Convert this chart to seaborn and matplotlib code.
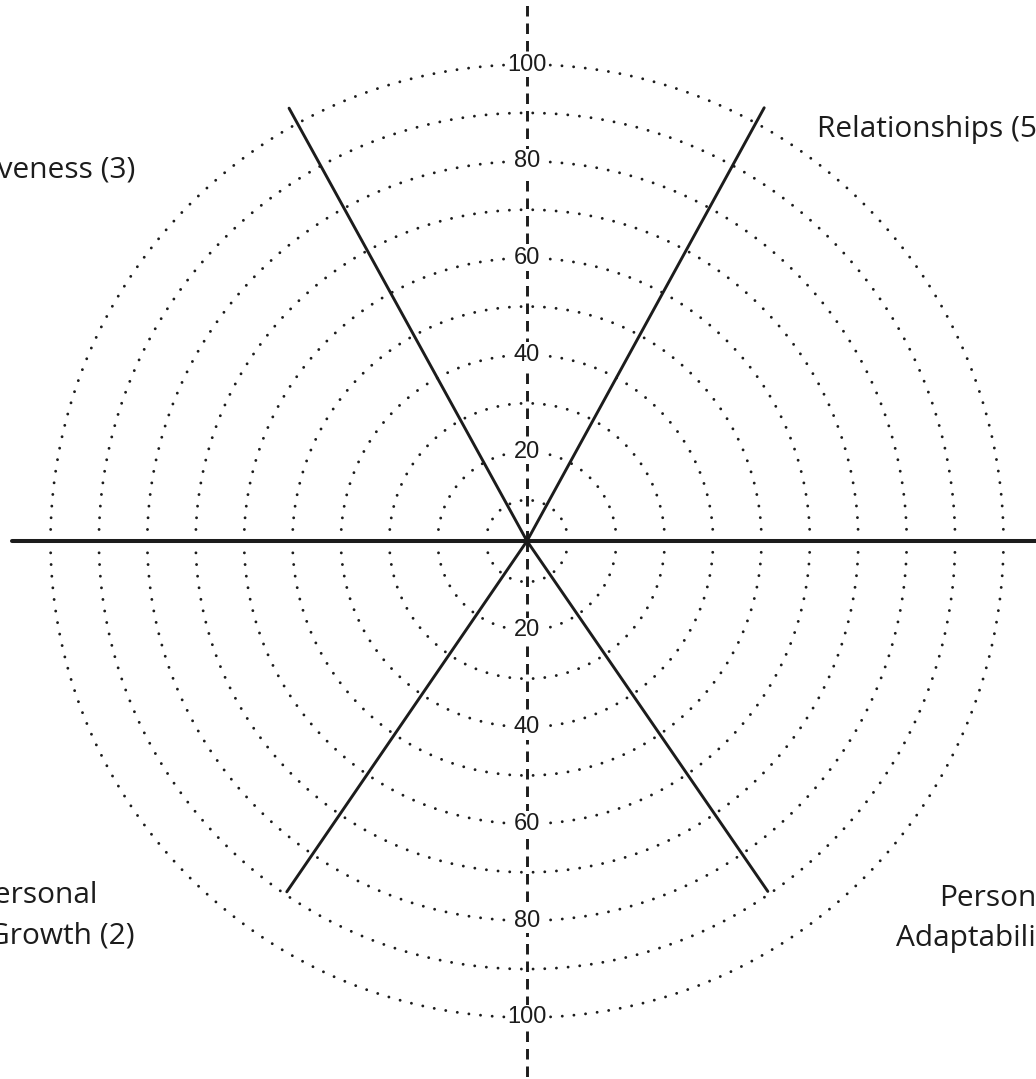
import numpy as np
import pandas as pd
import matplotlib
matplotlib.use('Agg')
import matplotlib.pyplot as plt
import seaborn as sns

# ring values (dotted circles) and the numbers written on the vertical axis
ring_values = [10, 20, 30, 40, 50, 60, 70, 80, 90, 100]
scale_labels = [20, 40, 60, 80, 100]

# solid spokes: angle (degrees, counter-clockwise from east) and length (scale units)
spoke_angles = [0, 61.3, 118.8, 180, 235.6, 304.5]
spoke_lengths = [108, 103.6, 103.6, 108, 89.4, 89.4]

# dashed vertical axis
axis_angles = [90, 270]
axis_length = 115

categories = ['Relationships (5)', 'Effectiveness (3)',
              'Personal\nGrowth (2)', 'Personal\nAdaptability (6)']

W, H = 1036, 1079
cx, cy = 527, 541          # centre in pixels (from top)
r_min, r_max = 1.55, 115   # scale value at the centre / at the axes edge
px_per_unit = 4.84

sns.set_theme(style='white')
plt.rcParams['font.family'] = ['Open Sans', 'DejaVu Sans']

fig = plt.figure(figsize=(W / 100, H / 100), dpi=100)
fig.patch.set_facecolor('white')
rad_px = (r_max - r_min) * px_per_unit
ax = fig.add_axes([(cx - rad_px) / W, (H - cy - rad_px) / H,
                   2 * rad_px / W, 2 * rad_px / H], projection='polar')
ax.set_theta_zero_location('E')
ax.set_rlim(r_min, r_max)
ax.grid(False)
ax.set_xticks([])
ax.set_yticks([])
ax.spines['polar'].set_visible(False)

ink = '#1c1c1c'

# dotted rings
theta = np.linspace(0, 2 * np.pi, 1441)
rings = pd.DataFrame({
    'theta': np.tile(theta, len(ring_values)),
    'r': np.repeat(ring_values, len(theta)).astype(float),
    'ring': np.repeat(ring_values, len(theta)),
})
sns.lineplot(data=rings, x='theta', y='r', units='ring', estimator=None,
             sort=False, color=ink, lw=2.1, linestyle=(0, (0.01, 4.0)),
             dash_capstyle='round', ax=ax, legend=False)

# solid spokes
spokes = pd.DataFrame({
    'theta': np.deg2rad(np.repeat(spoke_angles, 2)),
    'r': np.ravel([[r_min, L] for L in spoke_lengths]),
    'spoke': np.repeat(range(len(spoke_angles)), 2),
})
horiz = spokes['spoke'].isin([0, 3])
sns.lineplot(data=spokes[~horiz], x='theta', y='r', units='spoke',
             estimator=None, sort=False, color=ink, lw=2.1, ax=ax,
             legend=False)
sns.lineplot(data=spokes[horiz], x='theta', y='r', units='spoke',
             estimator=None, sort=False, color=ink, lw=2.9, ax=ax,
             legend=False)

# dashed vertical axis
vaxis = pd.DataFrame({
    'theta': np.deg2rad(np.repeat(axis_angles, 2)),
    'r': [r_min, axis_length] * len(axis_angles),
    'part': np.repeat(range(len(axis_angles)), 2),
})
sns.lineplot(data=vaxis, x='theta', y='r', units='part', estimator=None,
             sort=False, color=ink, lw=2.1, linestyle=(0, (3.6, 2.4)),
             ax=ax, legend=False)

ax.set_xlabel('')
ax.set_ylabel('')

# scale numbers above and below the centre
for v in scale_labels:
    for ang in axis_angles:
        ax.text(np.deg2rad(ang), v, str(v), ha='center', va='center',
                fontsize=17, family=['Liberation Sans', 'DejaVu Sans'],
                color=ink, zorder=5,
                bbox=dict(facecolor='white', edgecolor='none', pad=1.0))

# category labels (partly cut off by the page edge, as on the scan)
lab_kw = dict(fontsize=21.5, color=ink, va='baseline')
fig.text(817 / W, 1 - 137 / H, categories[0], ha='left', **lab_kw)
fig.text(135 / W, 1 - 178 / H, categories[1], ha='right', **lab_kw)
for i, (line, x) in enumerate(zip(categories[2].split('\n'), [98, 135])):
    fig.text(x / W, 1 - (903 + 40 * i) / H, line, ha='right', **lab_kw)
for i, line in enumerate(categories[3].split('\n')):
    fig.text(1000 / W, 1 - (906 + 40 * i) / H, line, ha='center', **lab_kw)

fig.savefig('out.png', dpi=100, facecolor='white')
